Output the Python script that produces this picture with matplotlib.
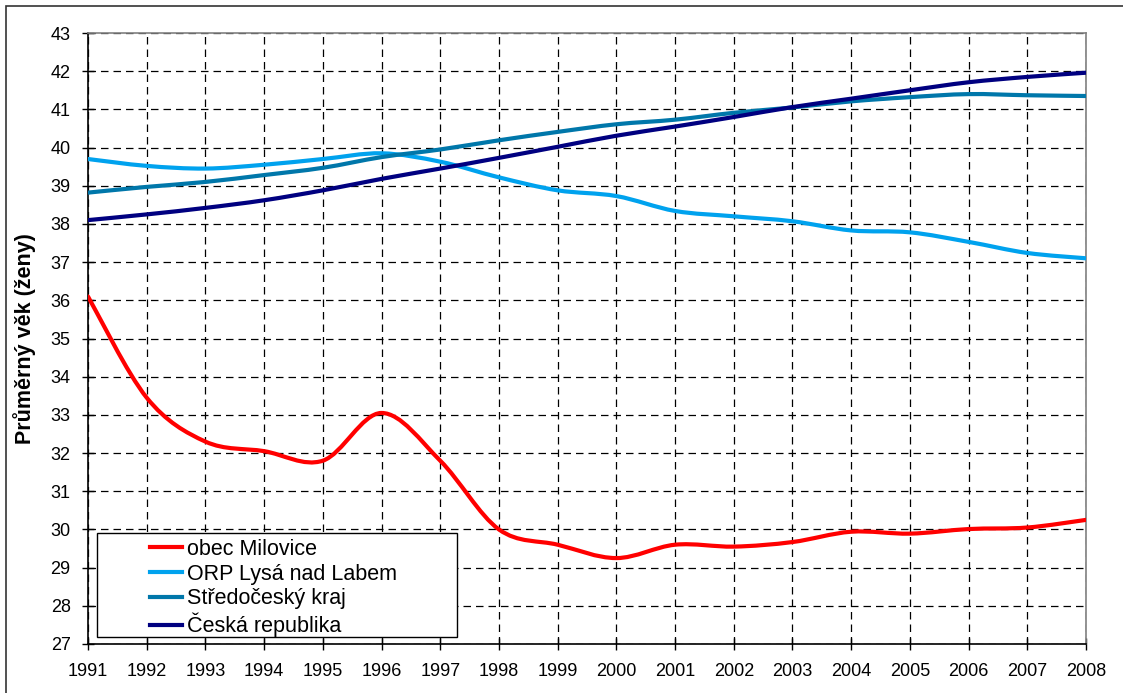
import numpy as np
import matplotlib
matplotlib.use('Agg')
import matplotlib.pyplot as plt
from matplotlib.path import Path
from matplotlib.patches import PathPatch, Rectangle
from matplotlib.lines import Line2D

plt.rcParams['font.family'] = ['Liberation Sans', 'DejaVu Sans']

years = list(range(1991, 2009))
milovice = [36.1, 33.45, 32.3, 32.05, 31.8, 33.05, 31.8, 30.0, 29.6, 29.25,
            29.6, 29.55, 29.67, 29.94, 29.89, 30.01, 30.05, 30.25]
lysa = [39.7, 39.52, 39.45, 39.55, 39.7, 39.85, 39.63, 39.22, 38.88, 38.73,
        38.34, 38.2, 38.07, 37.83, 37.78, 37.53, 37.24, 37.1]
stredocesky = [38.82, 38.97, 39.1, 39.28, 39.47, 39.75, 39.95, 40.19, 40.41, 40.61,
               40.73, 40.91, 41.05, 41.21, 41.32, 41.4, 41.37, 41.35]
cr = [38.1, 38.25, 38.42, 38.62, 38.88, 39.18, 39.45, 39.73, 40.02, 40.31,
      40.55, 40.8, 41.06, 41.28, 41.5, 41.71, 41.85, 41.96]

names = ['obec Milovice', 'ORP Lysá nad Labem', 'Středočeský kraj', 'Česká republika']
colors = ['#ff0000', '#00a2ee', '#0077aa', '#000080']
series = [milovice, lysa, stredocesky, cr]

W, H = 1123, 693


def smooth_path(x, y):
    # Excel-like smoothed line: Catmull-Rom segments as cubic Bezier curves
    x = np.asarray(x, float)
    y = np.asarray(y, float)
    n = len(x)
    verts = [(x[0], y[0])]
    codes = [Path.MOVETO]
    for i in range(n - 1):
        p0 = i - 1 if i > 0 else i
        p3 = i + 2 if i + 2 < n else i + 1
        c1 = (x[i] + (x[i + 1] - x[p0]) / 6, y[i] + (y[i + 1] - y[p0]) / 6)
        c2 = (x[i + 1] - (x[p3] - x[i]) / 6, y[i + 1] - (y[p3] - y[i]) / 6)
        verts += [c1, c2, (x[i + 1], y[i + 1])]
        codes += [Path.CURVE4] * 3
    return Path(verts, codes)


fig = plt.figure(figsize=(W / 100, H / 100), dpi=100)
ax = fig.add_axes([88 / W, 1 - 644 / H, 998 / W, 611 / H])

# outer chart border (only left and top visible in the crop)
fig.patches.append(Rectangle((6 / W, -0.1), 1.2, 1 - 6 / H + 0.1,
                             transform=fig.transFigure, fill=False,
                             edgecolor='#333333', linewidth=1.2))

for vals, col in zip(series, colors):
    ax.add_patch(PathPatch(smooth_path(years, vals), fill=False,
                           edgecolor=col, linewidth=3.0, capstyle='round',
                           joinstyle='round', zorder=3))

ax.set_xlim(1991, 2008)
ax.set_ylim(27, 43)
ax.set_xticks(years)
ax.set_yticks(range(27, 44))
ax.tick_params(direction='inout', length=8, width=1, labelsize=13,
               color='black')
ax.tick_params(axis='y', pad=8.5)
ax.tick_params(axis='x', pad=10)
ax.grid(True, color='black', linestyle=(0, (6, 4)), linewidth=0.9)
ax.set_axisbelow(True)
for s in ['left', 'bottom']:
    ax.spines[s].set_color('black')
    ax.spines[s].set_linewidth(1.2)
for s in ['top', 'right']:
    ax.spines[s].set_color('#808080')
    ax.spines[s].set_linewidth(1.2)

ax.set_ylabel('Průměrný věk (ženy)', fontsize=15.5, fontweight='bold')
ax.yaxis.set_label_coords((36 - 88) / 998, 0.5)

# legend box drawn separately, entries placed inside it
ax.add_patch(Rectangle(((97 - 88) / 998, (644 - 637) / 611), 360 / 998, 104 / 611,
                       transform=ax.transAxes, facecolor='white',
                       edgecolor='black', linewidth=1.0, zorder=4))
handles = [Line2D([], [], color=c, linewidth=3.0) for c in colors]
leg = ax.legend(handles, names, loc='upper left',
                bbox_to_anchor=((150 - 88) / 998, (644 - 539) / 611),
                fontsize=15.5, frameon=False,
                handlelength=1.5, handletextpad=0.2, labelspacing=0.17,
                borderpad=0, borderaxespad=0)
leg.set_zorder(5)

fig.savefig('out.png', dpi=100)
